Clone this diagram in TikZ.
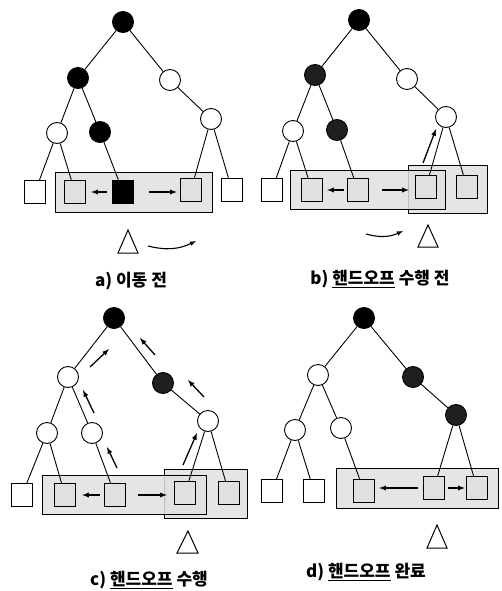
\documentclass[tikz,border=0pt]{standalone}
\usepackage{fontspec}
\setmainfont{Noto Sans CJK KR}
\usetikzlibrary{positioning}
\usetikzlibrary{calc}
\tikzset{
    wnode/.style = {circle, draw, line width=0.9pt, minimum size=21pt, inner sep=0pt, fill=white},
    bnode/.style = {wnode, fill=black},
    gnode/.style = {wnode, fill=black!88},
    leaf/.style  = {rectangle, draw, line width=0.9pt, minimum width=21pt, minimum height=23pt, inner sep=0pt, fill=white},
    cleaf/.style = {leaf, line width=1.4pt, fill=black!12},
    cell/.style  = {draw, line width=1pt, fill=black!12, fill opacity=0.85},
    edge/.style  = {line width=0.9pt},
    mv/.style    = {->, >=latex, line width=1.3pt},
    tri/.style   = {draw, line width=1pt, fill=white},
    lbl/.style   = {font=\fontsize{17}{19}\selectfont\bfseries},
}

\begin{document}
\begin{tikzpicture}[x=1pt, y=-1pt]
    \useasboundingbox (0,0) rectangle (502,591);
    % --- a) tree
    \node[bnode] (aroot) at (123,22) {};
    \node[bnode] (al) at (78,78) {};
    \node[wnode] (ar) at (170,80) {};
    \node[wnode] (all) at (57,133) {};
    \node[bnode] (alr) at (100,132) {};
    \node[wnode] (arr) at (211,119) {};
    % --- a) cell
    \draw[cell] (55,172) rectangle (212,212);
    \node[leaf] (a1) at (35,192) {};
    \node[cleaf] (a2) at (75,192) {};
    \node[cleaf, fill=black] (a3) at (123,192) {};
    \node[cleaf] (a4) at (191,190) {};
    \node[leaf] (a5) at (232,190) {};
    \draw[edge] (aroot) -- (al) (aroot) -- (ar) (al) -- (all) (al) -- (alr) (ar) -- (arr);
    \draw[edge] (all) -- (a1) (all) -- (a2) (alr) -- (a3) (arr) -- (a4) (arr) -- (a5);
    % --- a) moves
    \draw[mv] ([xshift=-5pt]a3.west) -- ([xshift=5pt]a2.east);
    \draw[mv] ([xshift=15pt]a3.east) -- ([xshift=-3pt]a3.east -| a4.west);
    \draw[tri] (128,230) -- (138,253) -- (118,253) -- cycle;
    \coordinate (ago) at (148,246);
    \coordinate (aend) at (196,241);
    \draw[mv, line width=1.1pt] (ago) to[bend right=20] (aend);
    \node[lbl] (acap) at (131,281) {a) 이동 전};

    % --- b) tree
    \node[bnode] (broot) at (359,20) {};
    \node[gnode] (bl) at (315,75) {};
    \node[wnode] (br) at (407,79) {};
    \node[wnode] (bll) at (293,131) {};
    \node[gnode] (blr) at (337,130) {};
    \node[wnode] (brr) at (446,117) {};
    % --- b) cells
    \draw[cell] (408,165) rectangle (487,213);
    \draw[cell] (290,170) rectangle (445,209);
    \node[leaf] (b1) at (272,190) {};
    \node[cleaf] (b2) at (312,190) {};
    \node[cleaf] (b3) at (358,190) {};
    \node[cleaf] (b4) at (426,187) {};
    \node[cleaf] (b5) at (467,187) {};
    \draw[edge] (broot) -- (bl) (broot) -- (br) (bl) -- (bll) (bl) -- (blr) (br) -- (brr);
    \draw[edge] (bll) -- (b1) (bll) -- (b2) (blr) -- (b3) (brr) -- (b4) (brr) -- (b5);
    % --- b) moves
    \draw[mv] ([xshift=-3pt]b3.west) -- ([xshift=4pt]b2.east);
    \draw[mv] ([xshift=13pt]b3.east) -- ([xshift=-6pt]b3.east -| b4.west);
    \draw[mv] (423,163) -- (436,129);
    \draw[tri] (428,225) -- (438,247) -- (418,247) -- cycle;
    \coordinate (bgo) at (366,234);
    \coordinate (bend) at (403,231);
    \draw[mv, line width=1.1pt] (bgo) to[bend right=20] (bend);
    \node[lbl] (bcap) at (380,279) {b) \underline{핸드오프} 수행 전};

    % --- c) tree
    \node[bnode] (croot) at (114,318) {};
    \node[wnode] (cl) at (68,377) {};
    \node[gnode] (cr) at (163,383) {};
    \node[wnode] (cll) at (47,433) {};
    \node[wnode] (clr) at (92,433) {};
    \node[wnode] (crr) at (208,421) {};
    % --- c) cells
    \draw[cell] (164,469) rectangle (247,518);
    \draw[cell] (42,475) rectangle (206,514);
    \node[leaf] (c1) at (22,495) {};
    \node[cleaf] (c2) at (65,495) {};
    \node[cleaf] (c3) at (115,495) {};
    \node[cleaf] (c4) at (185,493) {};
    \node[cleaf] (c5) at (229,493) {};
    \draw[edge] (croot) -- (cl) (croot) -- (cr) (cl) -- (cll) (cl) -- (clr) (cr) -- (crr);
    \draw[edge] (cll) -- (c1) (cll) -- (c2) (clr) -- (c3) (crr) -- (c4) (crr) -- (c5);
    % --- c) moves
    \draw[mv] ([xshift=-4pt]c3.west) -- ([xshift=6pt]c2.east);
    \draw[mv] ([xshift=12pt]c3.east) -- ([xshift=-7pt]c3.east -| c4.west);
    % --- c) path up to the root
    \draw[mv] (117,468) -- (107,447);
    \draw[mv] (94,413) -- (83,390);
    \draw[mv] (90,367) -- (109,349);
    \draw[mv] (183,465) -- (197,433);
    \draw[mv] (204,397) -- (188,380);
    \draw[mv] (155,355) -- (140,338);
    \draw[tri] (188,531) -- (198,553) -- (177,553) -- cycle;
    \node[lbl] (ccap) at (149,580) {c) \underline{핸드오프} 수행};

    % --- d) tree
    \node[bnode] (droot) at (364,318) {};
    \node[wnode] (dl) at (318,375) {};
    \node[gnode] (dr) at (413,377) {};
    \node[wnode] (dll) at (295,430) {};
    \node[wnode] (dlr) at (341,428) {};
    \node[gnode] (drr) at (456,415) {};
    % --- d) cell
    \draw[cell] (336,468) rectangle (498,508);
    \node[leaf] (d1) at (272,491) {};
    \node[leaf] (d2) at (314,491) {};
    \node[cleaf] (d3) at (364,491) {};
    \node[cleaf] (d4) at (434,488) {};
    \node[cleaf] (d5) at (477,488) {};
    \draw[edge] (droot) -- (dl) (droot) -- (dr) (dl) -- (dll) (dl) -- (dlr) (dr) -- (drr);
    \draw[edge] (dll) -- (d1) (dll) -- (d2) (dlr) -- (d3) (drr) -- (d4) (drr) -- (d5);
    % --- d) moves
    \draw[mv] ([xshift=-5pt]d4.west) -- ([xshift=4pt]d4.west -| d3.east);
    \draw[mv] ([xshift=3pt]d4.east) -- ([xshift=-1pt]d4.east -| d5.west);
    \draw[tri] (437,525) -- (447,548) -- (427,548) -- cycle;
    \node[lbl] (dcap) at (366,572) {d) \underline{핸드오프} 완료};
\end{tikzpicture}
\end{document}
